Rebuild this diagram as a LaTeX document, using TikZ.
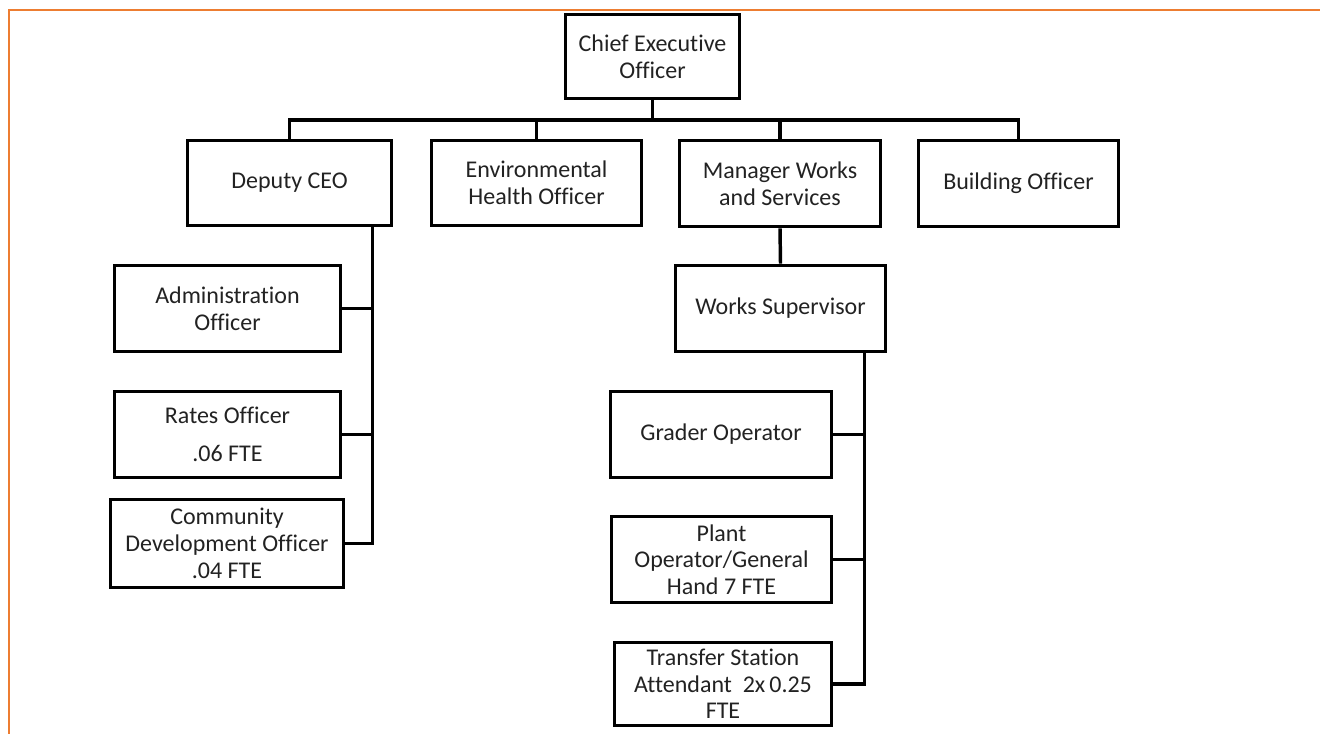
\documentclass[tikz,border=0pt]{standalone}
\usepackage{fontspec}
\setmainfont{Carlito}[Ligatures=NoCommon]
\definecolor{frameorange}{HTML}{ED7D31}
\definecolor{txt}{HTML}{222222}
\begin{document}
\begin{tikzpicture}[x=0.75pt,y=-0.75pt,
  box/.style={draw=black, line width=2.8pt, inner sep=0pt, align=center,
    text=txt, font=\fontsize{18pt}{20pt}\selectfont},
  dim/.style 2 args={minimum width=#1*0.75pt, minimum height=#2*0.75pt},
  link/.style={draw=black, line width=2.6pt, line join=miter},
  frameline/.style={draw=frameorange, line width=1.5pt}]
\useasboundingbox (0,0) rectangle (1320,734);
\draw[frameline] (1320,10.5) -- (8.5,10.5) -- (8.5,734);

% level 0
\node[box, dim={174}{84}] (ceo) at (652.5,56.5) {Chief Executive\\Officer};
% level 1
\node[box, dim={204}{85}] (dep) at (289.5,183) {Deputy CEO};
\node[box, dim={210}{85}] (env) at (536.5,183) {Environmental\\Health Officer};
\node[box, dim={201}{86}] (mgr) at (780,183.5) {Manager Works\\and Services};
\node[box, dim={200}{86}] (bld) at (1018.5,183.5) {Building Officer};
% deputy branch
\node[box, dim={226}{86}] (adm) at (227.5,308.5) {Administration\\Officer};
\node[box, dim={226}{86}] (rat) at (227.5,434.5) {Rates Officer\\[8.5pt].06 FTE};
\node[box, dim={233}{88}] (com) at (227,543.5) {Community\\Development Officer\\.04 FTE};
% works branch
\node[box, dim={210}{86}] (sup) at (780.5,308.5) {Works Supervisor};
\node[box, dim={221}{86}] (gra) at (721,434.5) {Grader Operator};
\node[box, dim={220}{86}] (pla) at (721.5,559.5) {Plant\\Operator/General\\Hand 7 FTE};
\node[box, dim={217}{83}] (tra) at (723,684) {Transfer Station\\Attendant~~2x\,0.25\\FTE};

% connectors
\coordinate (bus) at (652.5,120);
\coordinate (dtrunk) at (372.5,0);
\coordinate (strunk) at (864.5,0);
\draw[link] (ceo.south) -- (bus);
\draw[link] (dep.north) |- (bus) -| (bld.north);
\draw[link] (env.north) -- (env.north |- bus);
\draw[link] (mgr.north) -- (mgr.north |- bus);

\draw[link] (dep.south -| dtrunk) |- (com.east);
\draw[link] (adm.east) -- (adm.east -| dtrunk);
\draw[link] (rat.east) -- (rat.east -| dtrunk);

\draw[link] (mgr.south) -- (sup.north);
\draw[link] (sup.south -| strunk) |- (tra.east);
\draw[link] (gra.east) -- (gra.east -| strunk);
\draw[link] (pla.east) -- (pla.east -| strunk);
\end{tikzpicture}
\end{document}
